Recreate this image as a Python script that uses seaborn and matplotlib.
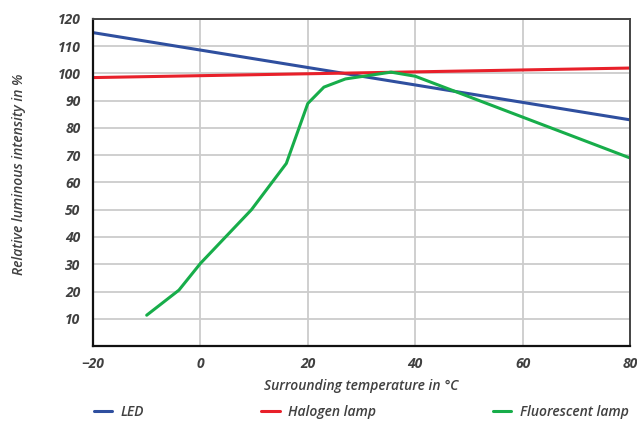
import matplotlib
matplotlib.use("Agg")
import matplotlib.pyplot as plt
import seaborn as sns
import pandas as pd

# values
led_temp = [-20, 80]
led_val = [115, 83]
halogen_temp = [-20, 80]
halogen_val = [98.5, 102]
fluor_temp = [-10, -4, 0, 9.5, 16, 20, 23, 27, 35.5, 40, 60, 80]
fluor_val = [11.3, 20.5, 30.3, 50, 67, 89, 95, 98, 100.5, 99, 84, 69]

x_ticks = [-20, 0, 20, 40, 60, 80]
y_ticks = [10, 20, 30, 40, 50, 60, 70, 80, 90, 100, 110, 120]

sns.set_style("white")
plt.rcParams["font.family"] = ["Open Sans", "DejaVu Sans"]

led = pd.DataFrame({"temp": led_temp, "val": led_val})
halogen = pd.DataFrame({"temp": halogen_temp, "val": halogen_val})
fluor = pd.DataFrame({"temp": fluor_temp, "val": fluor_val})

fig = plt.figure(figsize=(6.37, 4.21), dpi=100)
ax = fig.add_axes([93 / 637, 1 - 346 / 421, (630 - 93) / 637, (346 - 19) / 421])

sns.lineplot(data=led, x="temp", y="val", ax=ax, color="#2f4f9f", lw=2.2, label="LED", sort=False)
sns.lineplot(data=halogen, x="temp", y="val", ax=ax, color="#e8202a", lw=2.2, label="Halogen lamp", sort=False)
sns.lineplot(data=fluor, x="temp", y="val", ax=ax, color="#17ad4a", lw=2.2, label="Fluorescent lamp", sort=False)

ax.set_xlim(-20, 80)
ax.set_ylim(0, 120)
ax.set_xticks(x_ticks)
ax.set_yticks(y_ticks)
ax.grid(True, color="#cccccc", lw=1.3)
ax.set_axisbelow(True)

for side in ["left", "bottom"]:
    ax.spines[side].set_color("#111111")
    ax.spines[side].set_linewidth(1.6)
for side in ["top", "right"]:
    ax.spines[side].set_color("#444444")
    ax.spines[side].set_linewidth(1.4)

ax.tick_params(length=0, labelsize=10, labelcolor="#404040")
ax.tick_params(axis="y", pad=9)
ax.tick_params(axis="x", pad=8)
for t in ax.get_xticklabels() + ax.get_yticklabels():
    t.set_fontweight("bold")
    t.set_fontstyle("italic")

ax.set_xlabel("Surrounding temperature in °C", fontsize=10, fontweight="semibold",
              fontstyle="italic", color="#404040", labelpad=6)
ax.set_ylabel("Relative luminous intensity in %", fontsize=10, fontweight="semibold",
              fontstyle="italic", color="#404040")
ax.yaxis.set_label_coords(-0.125, 0.525)

handles, labels = ax.get_legend_handles_labels()
ax.get_legend().remove()
leg = fig.legend(handles, labels, loc="lower left", bbox_to_anchor=(84 / 637, -0.018),
                 ncol=3, frameon=False, handlelength=1.35, handletextpad=0.6,
                 columnspacing=8.4, borderpad=0.2,
                 prop={"size": 10, "weight": "semibold", "style": "italic"})
for t in leg.get_texts():
    t.set_color("#404040")

fig.savefig("out.png", dpi=100)
